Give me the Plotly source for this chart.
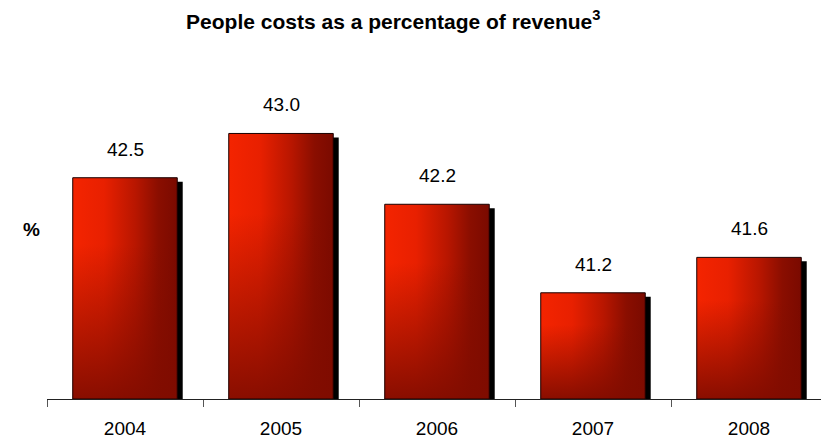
import plotly.graph_objects as go

# People costs as a share of revenue, by year
years = ["2004", "2005", "2006", "2007", "2008"]
people_cost_pct = [42.5, 43.0, 42.2, 41.2, 41.6]
value_labels = ["42.5", "43.0", "42.2", "41.2", "41.6"]

BASE = 40.0          # value at the axis line
BAR_W = 0.67         # bar width in category units
SHADOW_DX = 0.035    # drop-shadow shift to the right
SHADOW_DY = 0.045    # drop-shadow shift downward

FONT = "Liberation Sans, Arial, sans-serif"

fig = go.Figure()

for i, v in enumerate(people_cost_pct):
    x0, x1 = i - BAR_W / 2, i + BAR_W / 2

    # black drop shadow behind the bar
    fig.add_trace(go.Scatter(
        x=[x0 + SHADOW_DX, x1 + SHADOW_DX, x1 + SHADOW_DX, x0 + SHADOW_DX, x0 + SHADOW_DX],
        y=[BASE, BASE, v - SHADOW_DY, v - SHADOW_DY, BASE],
        mode="lines", fill="toself", fillcolor="#000000",
        line=dict(width=0), hoverinfo="skip", showlegend=False,
    ))

    # bar body: bright red on the left fading to deep red on the right
    fig.add_trace(go.Scatter(
        x=[x0, x1, x1, x0, x0],
        y=[BASE, BASE, v, v, BASE],
        mode="lines", fill="toself",
        fillgradient=dict(
            type="horizontal",
            colorscale=[[0.0, "#f42400"], [0.3, "#e82000"], [0.6, "#b81600"],
                        [0.82, "#8a0e00"], [1.0, "#7a0a00"]],
        ),
        line=dict(width=0), hoverinfo="skip", showlegend=False,
    ))

    # darkening toward the bottom of the bar
    fig.add_trace(go.Scatter(
        x=[x0, x1, x1, x0, x0],
        y=[BASE, BASE, v, v, BASE],
        mode="lines", fill="toself",
        fillgradient=dict(
            type="vertical",
            start=v, stop=BASE,
            colorscale=[[0.0, "rgba(128,12,0,0)"], [0.3, "rgba(128,12,0,0)"],
                        [1.0, "rgba(128,12,0,0.92)"]],
        ),
        line=dict(color="#1a0000", width=1), hoverinfo="skip", showlegend=False,
    ))

    fig.add_annotation(
        x=i, y=v, text=value_labels[i], showarrow=False,
        yanchor="bottom", yshift=16,
        font=dict(family=FONT, size=19, color="#000000"),
    )

# unit label on the left
fig.add_annotation(
    xref="paper", yref="paper", x=-0.02, y=0.50, text="<b>%</b>",
    showarrow=False, xanchor="center", yanchor="middle",
    font=dict(family=FONT, size=19, color="#000000"),
)

fig.update_layout(
    width=821, height=442,
    margin=dict(l=47, r=0, t=60, b=43),
    paper_bgcolor="white", plot_bgcolor="white",
    title=dict(
        text="<b>People costs as a percentage of revenue<sup>3</sup></b>",
        x=0.479, xanchor="center", y=0.952, yanchor="middle",
        font=dict(family=FONT, size=21, color="#000000"),
    ),
    xaxis=dict(
        range=[-0.5, 4.4615], tickmode="array",
        tickvals=list(range(len(years))), ticktext=years,
        ticks="", showgrid=False, zeroline=False,
        showline=True, linecolor="#222222", linewidth=1,
        tickfont=dict(family=FONT, size=19, color="#000000"),
        ticklabelstandoff=12,
        minor=dict(tickvals=[k - 0.5 for k in range(len(years) + 1)],
                   ticks="outside", ticklen=7, tickcolor="#555555", tickwidth=1),
    ),
    yaxis=dict(range=[BASE, 43.83], visible=False, fixedrange=True),
)

fig.write_html("out.html")
